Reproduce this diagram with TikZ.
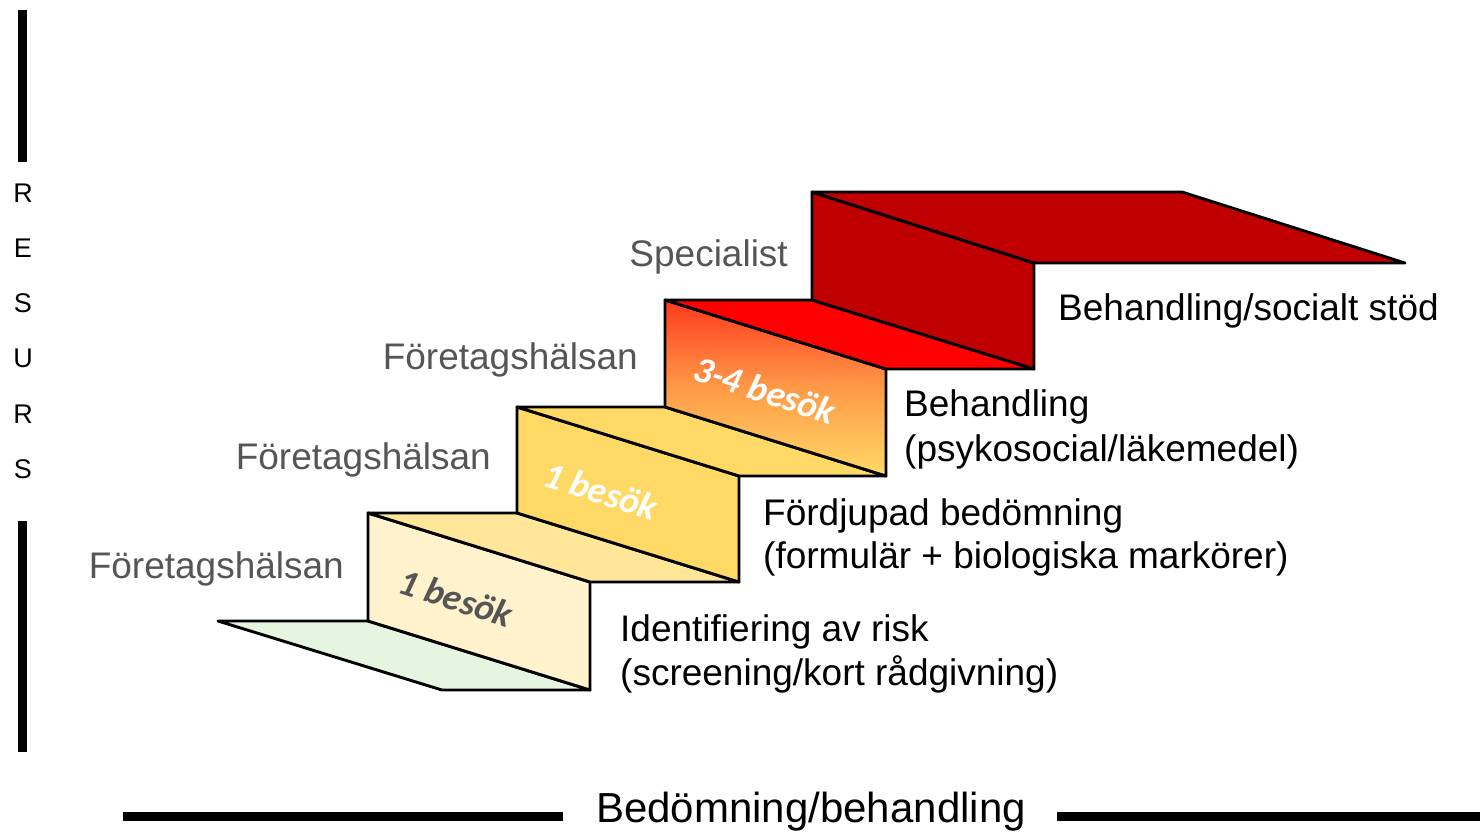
\documentclass[tikz,border=0pt]{standalone}
\usepackage{fontspec}
\setmainfont{Liberation Sans}
\newfontfamily\stepfont{Carlito}
\definecolor{greentread}{HTML}{E6F5DF}
\definecolor{riserA}{HTML}{FFF2CC}
\definecolor{treadB}{HTML}{FFE699}
\definecolor{riserB}{HTML}{FFD966}
\definecolor{treadC}{HTML}{FFD966}
\definecolor{riserCtop}{HTML}{FF3A1C}
\definecolor{riserCmid}{HTML}{FF9A48}
\definecolor{riserCbot}{HTML}{FFD966}
\definecolor{treadD}{HTML}{FF0000}
\definecolor{darkred}{HTML}{C00000}
\definecolor{graytext}{HTML}{555555}
\tikzset{
  stepface/.style={draw=black, line width=2.9pt, line join=round},
  graylabel/.style={font=\fontsize{37}{40}\selectfont, text=graytext, inner sep=0pt, anchor=base east},
  blacklabel/.style={font=\fontsize{37}{40}\selectfont, text=black, inner sep=0pt, anchor=base west},
  resletter/.style={font=\fontsize{27}{30}\selectfont, text=black, inner sep=0pt},
  visit/.style={font=\stepfont\bfseries\itshape\fontsize{37}{40}\selectfont, inner sep=0pt, rotate=-18},
  bar/.style={line width=9pt, black}
}
\begin{document}
\begin{tikzpicture}[x=1pt,y=-1pt]
\useasboundingbox (0,0) rectangle (1480,831);
% back corners
\coordinate (g0) at (218,621);
\coordinate (a0) at (368,621);
\coordinate (a1) at (368,513);
\coordinate (b1) at (517,513);
\coordinate (b2) at (517,407);
\coordinate (c2) at (665,407);
\coordinate (c3) at (665,300);
\coordinate (d3) at (812,300);
\coordinate (d4) at (812,192);
\coordinate (e4) at (1182,192);
% front corners
\coordinate (G0) at (442,690);
\coordinate (A0) at (590,690);
\coordinate (A1) at (590,582);
\coordinate (B1) at (739,582);
\coordinate (B2) at (739,476);
\coordinate (C2) at (886,476);
\coordinate (C3) at (886,369);
\coordinate (D3) at (1034,369);
\coordinate (D4) at (1034,263);
\coordinate (E4) at (1405,263);
% faces
\draw[stepface, fill=greentread] (g0) -- (a0) -- (A0) -- (G0) -- cycle;
\draw[stepface, fill=riserA] (a0) -- (a1) -- (A1) -- (A0) -- cycle;
\draw[stepface, fill=treadB] (a1) -- (b1) -- (B1) -- (A1) -- cycle;
\draw[stepface, fill=riserB] (b1) -- (b2) -- (B2) -- (B1) -- cycle;
\draw[stepface, fill=treadC] (b2) -- (c2) -- (C2) -- (B2) -- cycle;
\shade[top color=riserCtop, bottom color=riserCbot, middle color=riserCmid]
  (c2) -- (c3) -- (C3) -- (C2) -- cycle;
\draw[stepface] (c2) -- (c3) -- (C3) -- (C2) -- cycle;
\draw[stepface, fill=treadD] (c3) -- (d3) -- (D3) -- (C3) -- cycle;
\draw[stepface, fill=darkred] (d3) -- (d4) -- (D4) -- (D3) -- cycle;
\draw[stepface, fill=darkred] (d4) -- (e4) -- (E4) -- (D4) -- cycle;
% visit labels
\node[visit, text=graytext] (v1) at (456,598) {1 besök};
\node[visit, text=white] (v2) at (601,491) {1 besök};
\node[visit, text=white] (v3) at (765,390) {3-4 besök};
% left gray labels
\node[graylabel] (f1) at (344,578) {Företagshälsan};
\node[graylabel] (f2) at (491,469) {Företagshälsan};
\node[graylabel] (f3) at (638,369) {Företagshälsan};
\node[graylabel] (sp) at (788,266) {Specialist};
% right labels
\node[blacklabel] (r1a) at (620,641) {Identifiering av risk};
\node[blacklabel] (r1b) at (620,685) {(screening/kort rådgivning)};
\node[blacklabel] (r2a) at (763,525) {Fördjupad bedömning};
\node[blacklabel] (r2b) at (763,568) {(formulär + biologiska markörer)};
\node[blacklabel] (r3a) at (904,416) {Behandling};
\node[blacklabel] (r3b) at (904,461) {(psykosocial/läkemedel)};
\node[blacklabel] (r4a) at (1058,320) {Behandling/socialt stöd};
% axis
\draw[bar] (22,10) -- (22,162);
\draw[bar] (22,521) -- (22,752);
\node[resletter] (l1) at (23,193) {R};
\node[resletter] (l2) at (23,248) {E};
\node[resletter] (l3) at (23,303) {S};
\node[resletter] (l4) at (23,358) {U};
\node[resletter] (l5) at (23,414) {R};
\node[resletter] (l6) at (23,469) {S};
\draw[bar] (123,816) -- (563,816);
\draw[bar] (1057,816) -- (1480,816);
\node[font=\fontsize{42}{44}\selectfont, inner sep=0pt, anchor=base] (xl) at (811,822) {Bedömning/behandling};
\end{tikzpicture}
\end{document}
